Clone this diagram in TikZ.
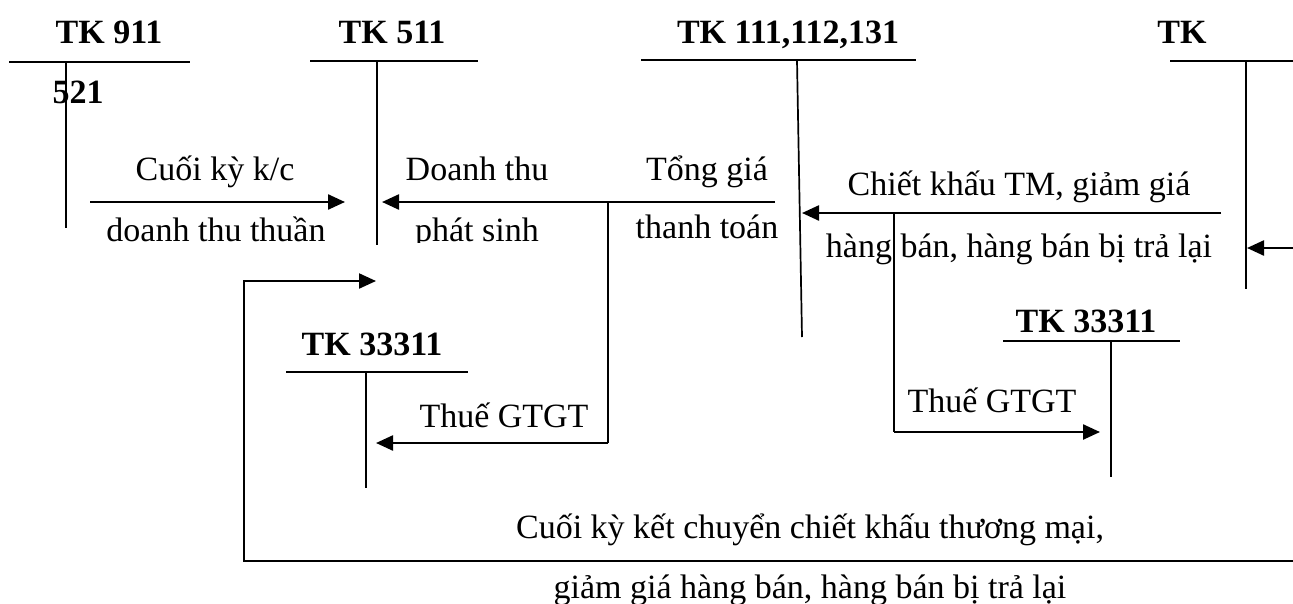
\documentclass[tikz,border=0pt]{standalone}
\usepackage{fontspec}
\setmainfont{Liberation Serif}
\usetikzlibrary{arrows.meta}
\begin{document}
\begin{tikzpicture}[x=1pt,y=-1pt,
  lbl/.style={anchor=base,inner sep=0pt,font=\fontsize{34}{40}\selectfont},
  acct/.style={anchor=base,inner sep=0pt,font=\fontsize{34}{40}\selectfont\bfseries},
  tline/.style={line width=1.7pt},
  flow/.style={line width=2.4pt,-{Triangle[length=17pt,width=15pt]}},
  plain/.style={line width=2pt}]
\useasboundingbox (0,0) rectangle (1293,603);

% account titles
\node[acct] (t911) at (109,43) {TK 911};
\node[acct] (t521a) at (78,103) {521};
\node[acct] (t511) at (392,43) {TK 511};
\node[acct] (t111) at (788,43) {TK 111,112,131};
\node[acct] (t521) at (1182,43) {TK};
\node[acct] (t333a) at (372,355) {TK 33311};
\node[acct] (t333b) at (1086,332) {TK 33311};

% T-account frames
\draw[tline] (9,62) -- (190,62);   \draw[tline] (66,62) -- (66,228);
\draw[tline] (310,61) -- (478,61); \draw[tline] (377,61) -- (377,245);
\draw[tline] (641,60) -- (916,60); \draw[tline] (797,60) -- (802,337);
\draw[tline] (1170,61) -- (1293,61); \draw[tline] (1246,61) -- (1246,289);
\draw[tline] (286,372) -- (468,372); \draw[tline] (366,372) -- (366,488);
\draw[tline] (1003,341) -- (1180,341); \draw[tline] (1111,341) -- (1111,477);

% connector end points
\coordinate (kcS) at (90,202);    \coordinate (kcE) at (345,202);
\coordinate (dtS) at (775,202);   \coordinate (dtE) at (382,202);
\coordinate (dtJ) at (608,202);   \coordinate (dtC) at (608,443);
\coordinate (vatL) at (376,443);
\coordinate (ckS) at (1221,213);  \coordinate (ckE) at (802,213);
\coordinate (ckJ) at (894,213);   \coordinate (ckC) at (894,432);
\coordinate (vatR) at (1100,432);
\coordinate (inS) at (1293,248);  \coordinate (inE) at (1247,248);
\coordinate (bS) at (1293,561);   \coordinate (bC1) at (244,561);
\coordinate (bC2) at (244,281);   \coordinate (bE) at (376,281);

% connectors
\draw[flow] (kcS) -- (kcE);
\draw[flow] (dtS) -- (dtE);
\draw[plain] (dtJ) -- (dtC);
\draw[flow] (dtC) -- (vatL);
\draw[flow] (ckS) -- (ckE);
\draw[plain] (ckJ) -- (ckC);
\draw[flow] (ckC) -- (vatR);
\draw[flow] (inS) -- (inE);
\draw[flow,line width=2.2pt] (bS) -- (bC1) -- (bC2) -- (bE);

% labels
\node[lbl] (l1a) at (215,180) {Cuối kỳ k/c};
\node[lbl] (l2a) at (477,180) {Doanh thu};
\begin{scope}
  \clip (0,0) rectangle (1293,242);
  \node[lbl] (l1b) at (216,241) {doanh thu thuần};
  \node[lbl] (l2b) at (477,241) {phát sinh};
\end{scope}
\node[lbl] (l3a) at (707,180) {Tổng giá};
\node[lbl] (l3b) at (707,238) {thanh toán};
\node[lbl] (l4a) at (1019,195) {Chiết khấu TM, giảm giá};
\node[lbl] (l4b) at (1019,257) {hàng bán, hàng bán bị trả lại};
\node[lbl] (l5) at (504,427) {Thuế GTGT};
\node[lbl] (l6) at (992,412) {Thuế GTGT};
\node[lbl] (l7a) at (810,538) {Cuối kỳ kết chuyển chiết khấu thương mại,};
\node[lbl] (l7b) at (810,598) {giảm giá hàng bán, hàng bán bị trả lại};
\end{tikzpicture}
\end{document}
